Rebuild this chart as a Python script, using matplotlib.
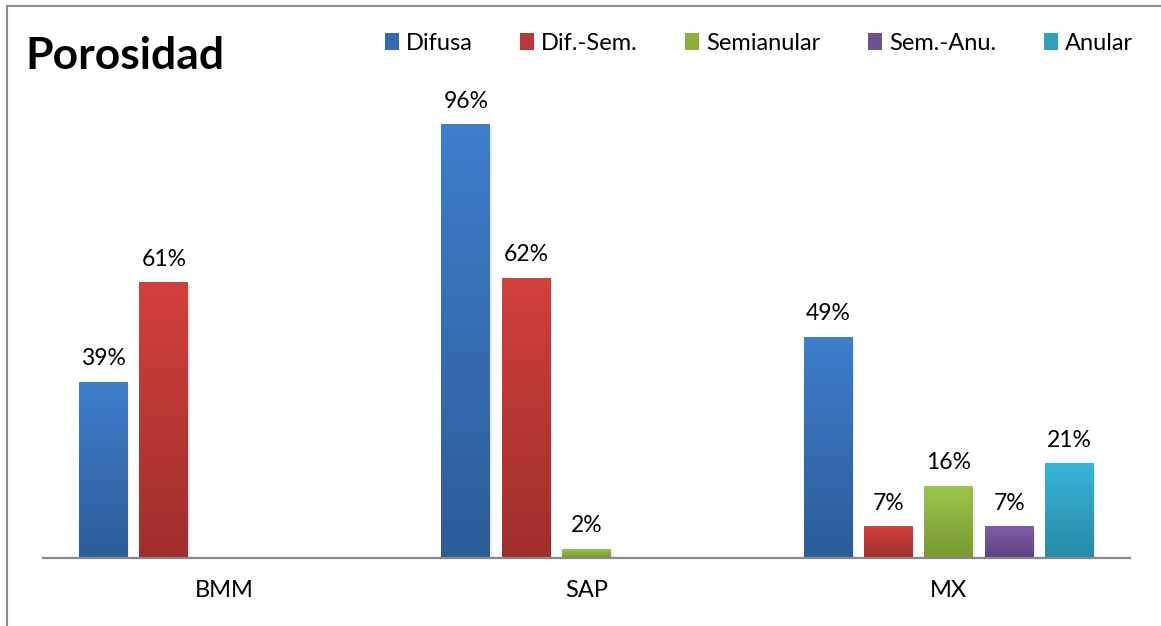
import numpy as np
import matplotlib
matplotlib.use("Agg")
import matplotlib.pyplot as plt
from matplotlib.patches import Rectangle, Patch
from matplotlib.colors import LinearSegmentedColormap

categories = ["BMM", "SAP", "MX"]
series = ["Difusa", "Dif.-Sem.", "Semianular", "Sem.-Anu.", "Anular"]
difusa = [39, 96, 49]
dif_sem = [61, 62, 7]
semianular = [np.nan, 2, 16]
sem_anu = [np.nan, np.nan, 7]
anular = [np.nan, np.nan, 21]
values = [difusa, dif_sem, semianular, sem_anu, anular]

top_colors = ["#3e7ecb", "#d2403c", "#9dc64b", "#7f5ca9", "#37b5d8"]
bot_colors = ["#2c5c98", "#9e2f2c", "#789834", "#5e4280", "#2a8aa3"]
mid_colors = ["#3569b0", "#b83835", "#8bb040", "#6e4f95", "#30a0bd"]

plt.rcParams['font.family'] = ['Lato', 'DejaVu Sans']

fig = plt.figure(figsize=(11.61, 6.26), dpi=100)
ax = fig.add_axes([43/1161, 1-558/626, (1130-43)/1161, (558-83.4)/626])

x = np.arange(len(categories))
step = 0.1665
width = 0.135
ymax = 105

for i, (vals, tc, bc) in enumerate(zip(values, top_colors, bot_colors)):
    xs = x + (i - 2) * step
    v = np.nan_to_num(np.array(vals, dtype=float), nan=0.0)
    bars = ax.bar(xs, v, width=width, color=tc, edgecolor='none', zorder=2)
    cmap = LinearSegmentedColormap.from_list(f"g{i}", [bc, tc])
    grad = np.linspace(0, 1, 256).reshape(-1, 1)
    for b, val, raw in zip(bars, v, vals):
        if val <= 0:
            continue
        x0 = b.get_x()
        sh = Rectangle((x0 + 0.004, -0.6), width, val, color='#000000', alpha=0.08,
                       zorder=1, lw=0)
        ax.add_patch(sh)
        im = ax.imshow(grad, cmap=cmap, origin='lower', aspect='auto',
                       extent=(x0, x0 + width, 0, val), zorder=3)
        im.set_clip_path(b)
        ax.annotate(f"{int(raw)}%", (b.get_x() + width / 2, val),
                    xytext=(0, 9), textcoords='offset points',
                    ha='center', va='bottom', fontsize=16.5, color='#000000', zorder=4)

ax.set_xlim(-0.5, 2.5)
ax.set_ylim(0, ymax)
ax.set_yticks([])
ax.set_xticks(x)
ax.set_xticklabels(categories, fontsize=17)
ax.tick_params(axis='x', length=0, pad=16)
for s in ['top', 'right', 'left']:
    ax.spines[s].set_visible(False)
ax.spines['bottom'].set_color('#888888')
ax.spines['bottom'].set_linewidth(1.6)
ax.spines['bottom'].set_zorder(5)

fig.text(25/1161, 1-56/626, "Porosidad", fontsize=32, fontweight='bold',
         ha='left', va='center', color='#000000')

handles = [Patch(facecolor=c, edgecolor='none') for c in mid_colors]
fig.legend(handles, series, loc='center right', bbox_to_anchor=(1133/1161, 1-43/626),
           ncol=5, frameon=False, fontsize=17, handlelength=0.6, handleheight=0.75,
           handletextpad=0.3, columnspacing=2.0, borderaxespad=0, borderpad=0)

border = Rectangle((7/1161, -0.2), 1.2, 1.2 - 6/626, transform=fig.transFigure,
                   fill=False, edgecolor='#8c8c8c', lw=1.5)
fig.patches.append(border)

fig.savefig("out.png", dpi=100, facecolor='white')
